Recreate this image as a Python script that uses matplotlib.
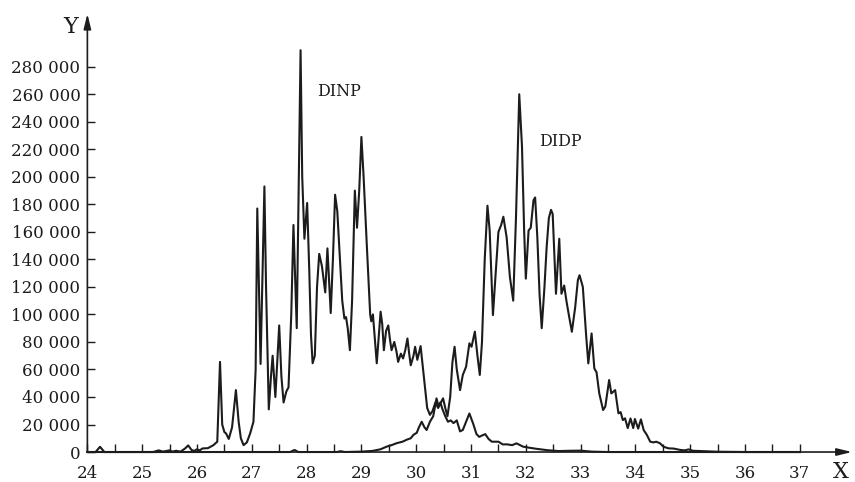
import matplotlib
matplotlib.use("Agg")
import matplotlib.pyplot as plt
import numpy as np

# Retention time (x) and detector response (y) for the two phthalate traces
dinp_x = [24.00, 24.15, 24.23, 24.31, 25.20, 25.30, 25.38, 25.50, 25.55, 25.62, 25.70, 25.78,
          25.84, 25.90, 25.95, 26.00, 26.05, 26.10, 26.20, 26.30, 26.37, 26.42, 26.46, 26.50,
          26.53, 26.58, 26.64, 26.71, 26.76, 26.80, 26.85, 26.91, 26.97, 27.03, 27.07, 27.10,
          27.16, 27.23, 27.26, 27.31, 27.35, 27.38, 27.43, 27.50, 27.54, 27.58, 27.63, 27.67,
          27.72, 27.76, 27.82, 27.89, 27.92, 27.96, 28.01, 28.05, 28.08, 28.11, 28.15, 28.19,
          28.23, 28.28, 28.34, 28.38, 28.41, 28.44, 28.48, 28.52, 28.56, 28.61, 28.65, 28.69,
          28.72, 28.75, 28.79, 28.83, 28.88, 28.92, 28.96, 29.00, 29.04, 29.10, 29.16, 29.18,
          29.21, 29.24, 29.28, 29.35, 29.38, 29.41, 29.45, 29.49, 29.52, 29.55, 29.60, 29.64,
          29.67, 29.72, 29.76, 29.80, 29.84, 29.87, 29.90, 29.95, 29.98, 30.02, 30.08, 30.12,
          30.16, 30.20, 30.25, 30.30, 30.35, 30.40, 30.44, 30.48, 30.53, 30.58, 30.63, 30.68,
          30.74, 30.80, 30.85, 30.90, 30.97, 31.04, 31.10, 31.15, 31.20, 31.26, 31.32, 31.38,
          31.50, 31.58, 31.65, 31.75, 31.83, 31.95, 32.05, 32.20, 32.40, 32.60, 32.80, 33.00,
          33.20, 33.50, 37.00]
dinp_y = [0, 0, 3800, 0, 0, 1200, 300, 1200, 300, 900, 300, 2500,
          4800, 1500, 800, 2000, 1200, 2600, 2800, 5000, 7500, 65500, 20000, 14500,
          13500, 9500, 18000, 45000, 22000, 10000, 5000, 7000, 13500, 22000, 60000, 177000,
          64000, 193000, 120000, 31000, 55000, 70000, 40000, 92000, 55000, 36000, 44000, 47000,
          100000, 165000, 90000, 292000, 200000, 155000, 181000, 130000, 85000, 64500, 70000, 120000,
          144000, 135000, 116000, 148000, 125000, 101000, 140000, 187000, 175000, 139000, 110000, 97000,
          98000, 90000, 74000, 110000, 190000, 163000, 190000, 229000, 200000, 149000, 100000, 95000,
          100000, 85000, 64500, 102000, 93000, 74000, 88000, 92000, 82000, 74000, 80000, 73000,
          65500, 71500, 68000, 74000, 82500, 72000, 63000, 70000, 76500, 67000, 77000, 62000,
          47000, 32000, 27000, 30000, 36000, 32000, 36000, 31000, 26000, 22000, 23000, 21000,
          23000, 15000, 16000, 21000, 28000, 20500, 13000, 11000, 12000, 13000, 9500, 7500,
          7500, 5500, 5600, 5000, 6300, 3900, 3200, 2300, 1300, 700, 900, 1000,
          300, 0, 0]

didp_x = [24.00, 27.70, 27.78, 27.85, 28.55, 28.62, 28.70, 29.00, 29.20, 29.35, 29.46, 29.55,
          29.65, 29.75, 29.83, 29.90, 29.95, 30.01, 30.05, 30.10, 30.15, 30.19, 30.25, 30.31,
          30.37, 30.41, 30.45, 30.49, 30.53, 30.57, 30.62, 30.66, 30.70, 30.74, 30.80, 30.85,
          30.91, 30.97, 31.01, 31.07, 31.12, 31.16, 31.20, 31.25, 31.30, 31.34, 31.40, 31.45,
          31.50, 31.55, 31.59, 31.65, 31.71, 31.77, 31.82, 31.88, 31.93, 31.97, 32.00, 32.05,
          32.09, 32.14, 32.17, 32.21, 32.25, 32.29, 32.34, 32.38, 32.42, 32.46, 32.49, 32.55,
          32.61, 32.65, 32.70, 32.74, 32.78, 32.84, 32.90, 32.95, 32.98, 33.04, 33.10, 33.14,
          33.20, 33.25, 33.29, 33.34, 33.41, 33.45, 33.52, 33.56, 33.63, 33.69, 33.73, 33.77,
          33.81, 33.86, 33.91, 33.96, 33.99, 34.05, 34.10, 34.15, 34.21, 34.27, 34.33, 34.38,
          34.45, 34.51, 34.60, 34.70, 34.82, 34.90, 34.97, 35.05, 35.20, 35.50, 36.00, 37.00]
didp_y = [0, 0, 1500, 0, 0, 600, 0, 300, 800, 2000, 3900, 5000,
          6500, 7500, 9000, 10000, 12500, 14000, 18000, 22000, 18000, 16000, 22000, 26000,
          39000, 33000, 36000, 39000, 32000, 26000, 40000, 65000, 76500, 60000, 45000, 56000,
          62000, 79000, 76500, 87500, 69000, 56000, 80000, 140000, 179000, 161000, 99500, 130000,
          160000, 165000, 171000, 156000, 127000, 110000, 170000, 260000, 222000, 160000, 126000, 161000,
          163000, 183000, 185000, 156000, 115000, 90000, 120000, 149000, 170000, 176000, 173000, 115000,
          155000, 115000, 121000, 110000, 100700, 87400, 105000, 125000, 128500, 120000, 85000, 64400,
          86200, 60700, 58000, 42600, 30500, 33000, 52300, 42600, 45000, 28100, 29000, 23200,
          24500, 17400, 24400, 17400, 24000, 17000, 23700, 16000, 12300, 7500, 7000, 7500,
          6300, 3900, 2700, 2500, 1500, 1200, 1900, 900, 700, 200, 0, 0]

series_labels = ["DINP", "DIDP"]
x_ticks = list(range(24, 38))
y_ticks = list(range(0, 280001, 20000))
y_tick_labels = [f"{v:,}".replace(",", " ") for v in y_ticks]

SERIF = "DejaVu Serif"
INK = "#1c1c1c"

fig = plt.figure(figsize=(8.55, 4.82), dpi=100)
ax = fig.add_axes([0.1022, 0.0622, 0.8942, 0.9135])
ax.set_xlim(24, 37.95)
ax.set_ylim(0, 320000)

for xs, ys in ((dinp_x, dinp_y), (didp_x, didp_y)):
    ax.plot(xs, ys, color=INK, lw=1.5, solid_joinstyle="round", clip_on=False, zorder=3)

# Axes drawn as arrows
for s in ax.spines.values():
    s.set_visible(False)
arrow = dict(arrowstyle="-|>,head_length=0.9,head_width=0.22", lw=1.2, color=INK,
             shrinkA=0, shrinkB=0)
ax.annotate("", xy=(24, 318500), xytext=(24, 0), arrowprops=arrow, annotation_clip=False)
ax.annotate("", xy=(37.95, 0), xytext=(24, 0), arrowprops=arrow, annotation_clip=False)

ax.set_xticks(x_ticks)
ax.set_xticks(np.arange(24.5, 37.0, 1.0), minor=True)
ax.set_yticks(y_ticks)
ax.set_yticklabels(y_tick_labels)
ax.tick_params(axis="both", which="both", direction="in", length=6, width=1.0, color=INK)
ax.tick_params(axis="y", pad=5, labelsize=12, labelcolor=INK)
ax.tick_params(axis="x", pad=9, labelsize=12, labelcolor=INK)
for lab in ax.get_xticklabels() + ax.get_yticklabels():
    lab.set_fontfamily(SERIF)

fig.text(70.5 / 855, 1 - 33 / 482, "Y", family=SERIF, fontsize=16, color=INK,
         ha="center", va="baseline")
fig.text(841 / 855, 1 - 478 / 482, "X", family=SERIF, fontsize=16, color=INK,
         ha="center", va="baseline")

ax.text(28.59, 262000, series_labels[0], family=SERIF, fontsize=11.5, color=INK,
        ha="center", va="center")
ax.text(32.64, 225600, series_labels[1], family=SERIF, fontsize=11.5, color=INK,
        ha="center", va="center")

fig.savefig("out.png", dpi=100)
